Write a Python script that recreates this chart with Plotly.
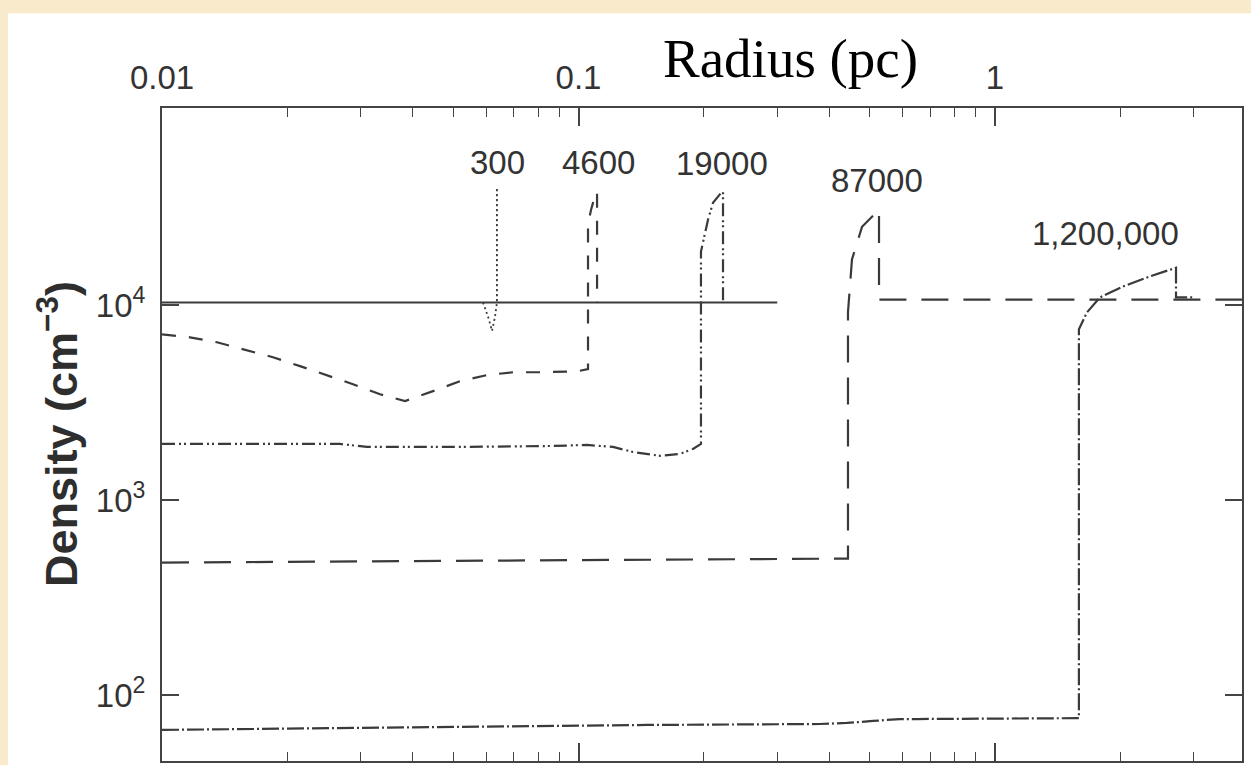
import plotly.graph_objects as go

# ---- data (radius in pc, density in cm^-3) ----
ambient_r = [0.01, 0.30]
ambient_n = [10350, 10350]

t300_r = [0.0590, 0.0607, 0.0620, 0.0630, 0.0637, 0.0637, 0.0637]
t300_n = [10350, 8700, 7400, 8700, 10350, 40200, 10350]

t4600_r = [0.0100, 0.01167, 0.01355, 0.01565, 0.01847, 0.02145, 0.02489, 0.02874,
           0.03338, 0.03833, 0.04474, 0.05193, 0.06031, 0.06964, 0.08218, 0.09918,
           0.1054, 0.1054, 0.1072, 0.1095, 0.1108, 0.1108]
t4600_n = [7100, 6860, 6470, 5960, 5420, 4880, 4390, 3940,
           3500, 3230, 3630, 4080, 4390, 4540, 4540, 4590,
           4710, 26000, 31000, 36500, 38300, 10350]

t19000_r = [0.01, 0.02675, 0.03105, 0.0528, 0.0869, 0.1048, 0.1210, 0.1351, 0.1569,
            0.1752, 0.1883, 0.1968, 0.1968, 0.2046, 0.2103, 0.2211, 0.2223, 0.2223]
t19000_n = [1945, 1945, 1878, 1878, 1900, 1923, 1878, 1770, 1690,
            1730, 1834, 1945, 18900, 27500, 33600, 38300, 38300, 10350]

t87000_r = [0.01, 0.05, 0.2, 0.4436, 0.4436, 0.4535, 0.4794, 0.5237, 0.5266, 0.5266, 3.92]
t87000_n = [479, 490, 497, 502, 9210, 17200, 25300, 31000, 31000, 10700, 10700]

t1200k_r = [0.01, 0.146, 0.380, 0.441, 0.5095, 0.591, 0.650, 1.59, 1.59, 1.663,
            1.787, 2.029, 2.356, 2.705, 2.72, 2.72, 3.02]
t1200k_n = [66.3, 70.3, 71.1, 72.0, 73.7, 75.4, 75.4, 76.2, 7540, 9210,
            10990, 12500, 14100, 15600, 15600, 10990, 10990]

x_tickvals = [0.01, 0.1, 1]
x_ticktext = ["0.01", "0.1", "1"]
x_minorvals = [0.02, 0.03, 0.04, 0.05, 0.06, 0.07, 0.08, 0.09,
               0.2, 0.3, 0.4, 0.5, 0.6, 0.7, 0.8, 0.9, 2, 3]
y_tickvals = [100, 1000, 10000]
y_ticktext = ["10<sup>2</sup>", "10<sup>3</sup>", "10<sup>4</sup>"]

labels = ["300", "4600", "19000", "87000", "1,200,000"]

LC = "#3a3a3a"
W = 2.2
NUMFONT = dict(family="Liberation Sans, Arial", size=33, color="#333")

fig = go.Figure()
fig.add_trace(go.Scatter(x=ambient_r, y=ambient_n, mode="lines",
                         line=dict(color=LC, width=W, dash="solid")))
fig.add_trace(go.Scatter(x=t300_r, y=t300_n, mode="lines",
                         line=dict(color=LC, width=1.8, dash="2px,3px")))
fig.add_trace(go.Scatter(x=t4600_r, y=t4600_n, mode="lines",
                         line=dict(color=LC, width=W, dash="14px,13px")))
fig.add_trace(go.Scatter(x=t19000_r, y=t19000_n, mode="lines",
                         line=dict(color=LC, width=W, dash="13px,4px,2px,3px,2px,4px")))
fig.add_trace(go.Scatter(x=t87000_r, y=t87000_n, mode="lines",
                         line=dict(color=LC, width=W, dash="27px,15px")))
fig.add_trace(go.Scatter(x=t1200k_r, y=t1200k_n, mode="lines",
                         line=dict(color=LC, width=W, dash="17px,3px,2px,3px")))

# label positions (pixel centres) -> paper coords
L, R, T, B = 162, 1242, 108, 763
def px(x):
    return (x - L) / (R - L)
def py(y):
    return (B - y) / (B - T)

label_pos = [(497, 163), (598, 163), (722, 164), (877, 181), (1105, 234)]
annotations = []
for txt, (ax_, ay_) in zip(labels, label_pos):
    annotations.append(dict(text=txt, x=px(ax_), y=py(ay_), xref="paper", yref="paper",
                            showarrow=False, xanchor="center", yanchor="middle",
                            font=NUMFONT))
annotations.append(dict(text="Radius (pc)", x=px(790), y=py(58), xref="paper", yref="paper",
                        showarrow=False, xanchor="center", yanchor="middle",
                        font=dict(family="Liberation Serif, Times New Roman", size=55, color="#000")))
annotations.append(dict(text="Density (cm<sup>\u22123</sup>)", x=px(58), y=py(435),
                        xref="paper", yref="paper", textangle=-90,
                        showarrow=False, xanchor="center", yanchor="middle",
                        font=dict(family="Liberation Sans, Arial", size=45, color="#2e2e2e",
                                  weight="bold")))

shapes = [dict(type="rect", xref="paper", yref="paper", layer="below",
               x0=px(8), x1=px(1260), y0=py(13), y1=py(780),
               fillcolor="white", line=dict(width=0))]

fig.update_layout(
    width=1251, height=765,
    margin=dict(l=L, r=1251 - R, t=T, b=765 - B),
    paper_bgcolor="#f9eacb", plot_bgcolor="white",
    showlegend=False,
    annotations=annotations, shapes=shapes,
)
fig.update_xaxes(type="log", range=[-2, 0.593], side="top",
                 showline=True, linewidth=2, linecolor="#444", mirror="ticks",
                 ticks="inside", ticklen=18, tickwidth=1.6, tickcolor="#444",
                 tickvals=x_tickvals, ticktext=x_ticktext, ticklabelstandoff=4,
                 tickfont=NUMFONT,
                 minor=dict(tickvals=x_minorvals, ticks="inside", ticklen=9,
                            tickwidth=1.4, tickcolor="#444", showgrid=False),
                 showgrid=False, zeroline=False)
fig.update_yaxes(type="log", range=[1.662, 5.013],
                 showline=True, linewidth=2, linecolor="#444", mirror="ticks",
                 ticks="inside", ticklen=17, tickwidth=1.6, tickcolor="#444",
                 tickvals=y_tickvals, ticktext=y_ticktext, ticklabelstandoff=8,
                 tickfont=NUMFONT,
                 showgrid=False, zeroline=False)

fig.write_html("out.html", config={"displayModeBar": False},
               post_script="document.body.style.margin='0';document.body.style.overflow='hidden';")
